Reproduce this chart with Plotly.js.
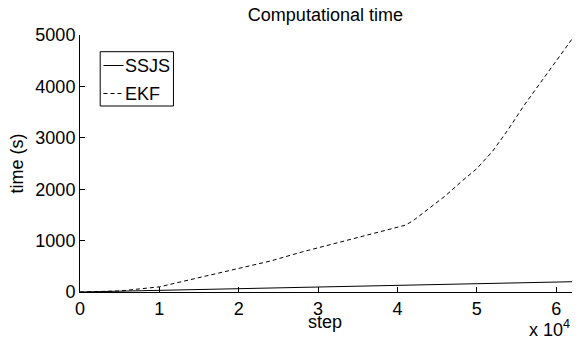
<!DOCTYPE html>
<html>
<head>
<meta charset="utf-8">
<script src="https://cdn.plot.ly/plotly-3.0.1.min.js"></script>
<style>
  html, body { margin: 0; padding: 0; background: #fff; }
  #chart { width: 582px; height: 340px; }
</style>
</head>
<body>
<div id="chart"></div>
<script>
// Step counts and cumulative run time (seconds) for the two filters
const ssjsSteps = [0, 10000, 20000, 30000, 40000, 50000, 62000];
const ssjsTime  = [0, 30, 62, 95, 128, 161, 200];

const ekfSteps = [0, 5000, 10000, 15000, 20000, 24000, 28000, 32000, 36000, 40000, 41000,
                  42000, 44000, 46000, 48000, 50000, 52000, 54000, 56000, 58000, 60000, 62000];
const ekfTime  = [0, 20, 100, 280, 450, 603, 780, 940, 1090, 1250, 1300,
                  1390, 1625, 1866, 2140, 2400, 2740, 3170, 3640, 4065, 4490, 4920];

const xTickVals  = [0, 10000, 20000, 30000, 40000, 50000, 60000];
const xTickText  = ['0', '1', '2', '3', '4', '5', '6'];
const yTickVals  = [0, 1000, 2000, 3000, 4000, 5000];

const seriesNames = ['SSJS', 'EKF'];

const FONT = 'Liberation Sans, Arial, Helvetica, sans-serif';
const FS = 18;
const DASH = '4px,3px';

const traces = [
  {
    x: ssjsSteps, y: ssjsTime, name: seriesNames[0], mode: 'lines',
    line: { color: '#000', width: 1 }, showlegend: false, hoverinfo: 'skip'
  },
  {
    x: ekfSteps, y: ekfTime, name: seriesNames[1], mode: 'lines',
    line: { color: '#000', width: 1, dash: DASH }, showlegend: false, hoverinfo: 'skip'
  }
];

// Plot area in pixels, used to place the legend box in paper units
const L = 79.5, R = 10.3, T = 35, B = 48;
const W = 582 - L - R, H = 340 - T - B;
const px = x => (x - L) / W;
const py = y => 1 - (y - T) / H;

const legendRows = [
  { name: seriesNames[0], y: 65.5, dash: 'solid' },
  { name: seriesNames[1], y: 93.5, dash: DASH }
];

const shapes = [
  { type: 'rect', xref: 'paper', yref: 'paper',
    x0: px(99.7), x1: px(173), y0: py(106), y1: py(51.7),
    line: { color: '#000', width: 1 }, fillcolor: '#fff' }
];
const annotations = [];
legendRows.forEach(r => {
  shapes.push({ type: 'line', xref: 'paper', yref: 'paper',
    x0: px(103), x1: px(123), y0: py(r.y), y1: py(r.y),
    line: { color: '#000', width: 1, dash: r.dash } });
  annotations.push({ xref: 'paper', yref: 'paper', x: px(122.5), y: py(r.y),
    xanchor: 'left', yanchor: 'middle', showarrow: false, text: r.name,
    font: { family: FONT, size: FS, color: '#000' } });
});

annotations.push({
  xref: 'paper', yref: 'paper', x: px(325), y: py(322),
  xanchor: 'center', yanchor: 'middle', showarrow: false, text: 'step',
  font: { family: FONT, size: FS, color: '#000' }
});
annotations.push({
  xref: 'paper', yref: 'paper', x: 1.0, y: py(328),
  xanchor: 'right', yanchor: 'middle', showarrow: false, text: 'x 10<sup>4</sup>',
  font: { family: FONT, size: FS, color: '#000' }
});

const layout = {
  width: 582, height: 340,
  margin: { l: L, r: R, t: T, b: B, pad: 0 },
  paper_bgcolor: '#fff', plot_bgcolor: '#fff',
  font: { family: FONT, size: FS, color: '#000' },
  title: {
    text: 'Computational time',
    font: { family: FONT, size: FS, color: '#000' },
    x: px(325), xref: 'paper', xanchor: 'center',
    y: 1 - 14.5 / 340, yref: 'container', yanchor: 'middle'
  },
  xaxis: {
    range: [0, 62000], tickvals: xTickVals, ticktext: xTickText,
    showgrid: false, zeroline: false, showline: true, linecolor: '#000', linewidth: 1,
    ticks: 'inside', ticklen: 5, tickcolor: '#000', tickwidth: 1,
    tickfont: { family: FONT, size: FS, color: '#000' }
  },
  yaxis: {
    range: [0, 5000], tickvals: yTickVals,
    showgrid: false, zeroline: false, showline: true, linecolor: '#000', linewidth: 1,
    ticks: 'inside', ticklen: 5, tickcolor: '#000', tickwidth: 1,
    tickfont: { family: FONT, size: FS, color: '#000' },
    title: { text: 'time (s)', font: { family: FONT, size: FS, color: '#000' }, standoff: 7 }
  },
  shapes: shapes,
  annotations: annotations,
  showlegend: false
};

Plotly.newPlot('chart', traces, layout, { staticPlot: true, displayModeBar: false });
</script>
</body>
</html>
